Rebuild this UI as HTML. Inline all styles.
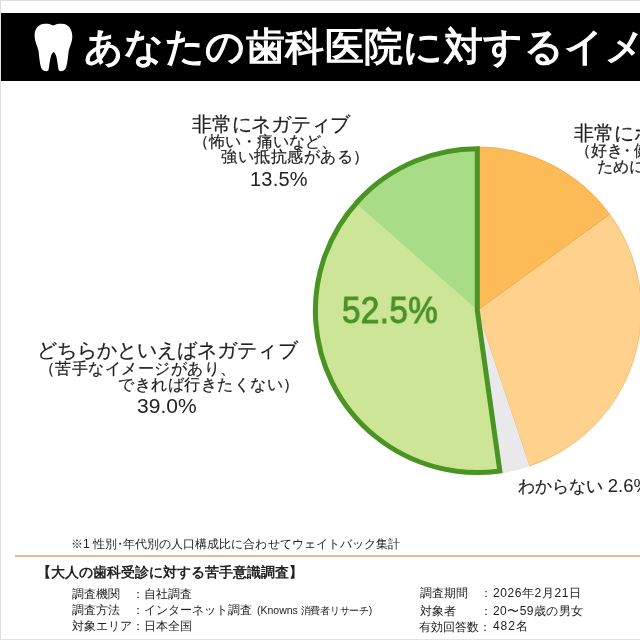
<!DOCTYPE html>
<html lang="ja">
<head>
<meta charset="utf-8">
<style>
html,body{margin:0;padding:0;}
body{width:640px;height:640px;position:relative;overflow:hidden;background:#fff;font-family:"Liberation Sans",sans-serif;color:#222;}
.bd-t{position:absolute;left:0;top:0;width:640px;height:1px;background:#dedede;}
.bd-l{position:absolute;left:0;top:0;width:1px;height:640px;background:#dedede;}
.bd-b{position:absolute;left:0;top:639px;width:640px;height:1px;background:#e2e2e2;}
.bar{position:absolute;left:1px;top:13px;width:660px;height:68px;background:#000;}
.t{position:absolute;white-space:nowrap;line-height:1;will-change:transform;}
svg{position:absolute;left:0;top:0;}
.hr{position:absolute;left:15px;top:555px;width:640px;height:2px;background:#e4b996;}
</style>
</head>
<body>
<div class="bd-t"></div>
<div class="bd-l"></div>
<div class="bd-b"></div>
<div class="bar"></div>
<svg width="640" height="640" viewBox="0 0 640 640">
<path fill="#fff" d="M53.2 25.6 C50 23.8,47.5 23.6,45 23.7 C38 23.9,34.5 29,34.6 36 C34.7 42,37.6 46,38.5 51 C39.3 57,39.8 64,41.3 68 C42.8 71,46.5 71.9,48.3 70.6 C49.6 68,49.6 54,53.6 52.1 C57.6 54,57.6 68,58.9 70.6 C60.7 71.9,64.4 71,65.9 68 C67.4 64,67.9 57,68.7 51 C69.6 46,72.5 42,72.3 36 C72.1 29,68.5 23.9,62 23.7 C59 23.6,56.5 23.8,53.2 25.6Z"/>
<path fill="#fdbb58" stroke="rgba(215,150,60,0.45)" stroke-width="1" d="M477.30 310.60 L477.30 146.70 A163.90 163.90 0 0 1 609.90 214.26 Z"/><path fill="#fed28c" stroke="rgba(215,150,60,0.45)" stroke-width="1" d="M477.30 310.60 L609.90 214.26 A163.90 163.90 0 0 1 529.31 466.03 Z"/><path fill="#e9e9ec" d="M477.30 310.60 L529.46 466.50 A164.40 164.40 0 0 1 500.18 473.40 Z"/><path fill="#cce597" d="M477.30 310.60 L499.83 470.92 A161.90 161.90 0 0 1 355.86 203.53 Z"/><path fill="#a9dc87" d="M477.30 310.60 L355.86 203.53 A161.90 161.90 0 0 1 477.30 148.70 Z"/><path fill="none" stroke="#4a9424" stroke-width="5" stroke-linejoin="miter" d="M477.30 310.60 L499.83 470.92 A161.90 161.90 0 1 1 477.30 148.70 Z"/>
</svg>
<div class="hr"></div>
<div class="t" id="title" style="left:84.45px;top:27.2px;font-size:39px;letter-spacing:0.434px;color:#fff;-webkit-text-stroke:1.3px #fff;">あなたの歯科医院に対するイメージ</div>
<div class="t" id="l1" style="left:192.15px;top:113.9px;font-size:20px;letter-spacing:-0.218px;-webkit-text-stroke:0.2px #222;">非常にネガティブ</div>
<div class="t" id="l2" style="left:192.84px;top:133.59px;font-size:16px;letter-spacing:-0.02px;-webkit-text-stroke:0.2px #222;">（怖い・痛いなど、</div>
<div class="t" id="l3" style="left:220.94px;top:149.45px;font-size:16px;letter-spacing:0.5px;-webkit-text-stroke:0.2px #222;">強い抵抗感がある）</div>
<div class="t" id="l4" style="left:250.36px;top:168.8px;font-size:20px;letter-spacing:0.2px;">13.5%</div>
<div class="t" id="r1" style="left:574.48px;top:123.34px;font-size:20px;letter-spacing:0px;-webkit-text-stroke:0.2px #222;">非常にポジティブ</div>
<div class="t" id="r2" style="left:575.06px;top:143.36px;font-size:16px;letter-spacing:0px;-webkit-text-stroke:0.2px #222;">（好き<span style="margin:0 -1px 0 -4px">・</span>健康のため</div>
<div class="t" id="r3" style="left:596.68px;top:159.39px;font-size:16px;letter-spacing:0px;-webkit-text-stroke:0.2px #222;">ために</div>
<div class="t" id="pct" style="left:341.56px;top:293.47px;font-size:36px;letter-spacing:0.5px;color:#4a912a;-webkit-text-stroke:1px #4a912a;transform:scaleX(0.92);transform-origin:0 0;">52.5%</div>
<div class="t" id="b1" style="left:37.0px;top:339.5px;font-size:20px;letter-spacing:0.043px;-webkit-text-stroke:0.2px #222;">どちらかといえばネガティブ</div>
<div class="t" id="b2" style="left:38.6px;top:361.17px;font-size:16px;letter-spacing:0.457px;-webkit-text-stroke:0.2px #222;">（苦手なイメージがあり、</div>
<div class="t" id="b3" style="left:117.94px;top:376.74px;font-size:16px;letter-spacing:0.528px;-webkit-text-stroke:0.2px #222;">できれば行きたくない）</div>
<div class="t" id="b4" style="left:136.6px;top:395.38px;font-size:21px;letter-spacing:0.04px;">39.0%</div>
<div class="t" id="unk" style="left:518.06px;top:476.63px;font-size:17px;letter-spacing:0px;-webkit-text-stroke:0.2px #222;">わからない <span id=unk2 style="-webkit-text-stroke:0;font-size:18.5px">2.6%</span></div>
<div class="t" id="note" style="left:70.75px;top:538.47px;font-size:12px;letter-spacing:0.086px;">※1 性別<span style="margin:0 -3.5px">・</span>年代別の人口構成比に合わせてウェイトバック集計</div>
<div class="t" id="hdr" style="left:37.06px;top:565.33px;font-size:14px;letter-spacing:-0.018px;font-weight:bold;color:#222;">【大人の歯科受診に対する苦手意識調査】</div>
<div class="t" id="f1" style="left:72.18px;top:587.6px;font-size:12px;letter-spacing:0px;">調査機関　：自社調査</div>
<div class="t" id="f2" style="left:72.18px;top:603.74px;font-size:12px;letter-spacing:0px;">調査方法　：インターネット調査<span id=f2b style="font-size:10.5px;margin-left:5px">(Knowns <span style="font-size:10px;letter-spacing:-0.3px">消費者リサーチ</span>)</span></div>
<div class="t" id="f3" style="left:72.18px;top:620.28px;font-size:12px;letter-spacing:0px;">対象エリア：日本全国</div>
<div class="t" id="g1" style="left:420.3px;top:587.37px;font-size:12px;letter-spacing:0px;">調査期間　：</div>
<div class="t" id="g1v" style="left:492.6px;top:587.37px;font-size:12px;letter-spacing:0.577px;">2026年2月21日</div>
<div class="t" id="g2" style="left:420.31px;top:604.74px;font-size:12px;letter-spacing:0px;">対象者　　：</div>
<div class="t" id="g2v" style="left:492.6px;top:604.74px;font-size:12px;letter-spacing:0.45px;">20〜59歳の男女</div>
<div class="t" id="g3" style="left:419.28px;top:620.82px;font-size:12px;letter-spacing:0px;">有効回答数：</div>
<div class="t" id="g3v" style="left:492.6px;top:620.42px;font-size:12px;letter-spacing:0.933px;">482名</div>
</body>
</html>
